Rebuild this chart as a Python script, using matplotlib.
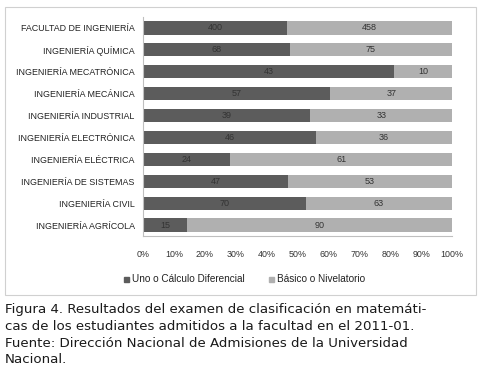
import matplotlib
matplotlib.use("Agg")
import matplotlib.pyplot as plt
from matplotlib.patches import Rectangle
import numpy as np

categories = ["FACULTAD DE INGENIERÍA", "INGENIERÍA QUÍMICA", "INGENIERÍA MECATRÓNICA",
              "INGENIERÍA MECÁNICA", "INGENIERÍA INDUSTRIAL", "INGENIERÍA ELECTRÓNICA",
              "INGENIERÍA ELÉCTRICA", "INGENIERÍA DE SISTEMAS", "INGENIERÍA CIVIL",
              "INGENIERÍA AGRÍCOLA"]
calculo = [400, 68, 43, 57, 39, 46, 24, 47, 70, 15]
basico = [458, 75, 10, 37, 33, 36, 61, 53, 63, 90]
series_names = ["Uno o Cálculo Diferencial", "Básico o Nivelatorio"]
xticks = [0, 10, 20, 30, 40, 50, 60, 70, 80, 90, 100]

W, H = 479, 374
fig = plt.figure(figsize=(W / 100, H / 100), dpi=100)
fig.patch.set_facecolor("white")

# chart border
fig.add_artist(Rectangle((5 / W, 1 - 295 / H), 471 / W, 288 / H, transform=fig.transFigure,
                         fill=False, edgecolor="#d0d0d0", lw=0.8))

left, right = 143 / W, 452 / W
top, bottom = 1 - 17 / H, 1 - 236 / H
ax = fig.add_axes([left, bottom, right - left, top - bottom])

c = np.array(calculo, float)
b = np.array(basico, float)
tot = c + b
pc = c / tot * 100
pb = b / tot * 100
y = np.arange(len(categories))

dark = "#5c5c5c"
light = "#b0b0b0"
ax.barh(y, pc, height=0.6, color=dark, edgecolor="none")
ax.barh(y, pb, left=pc, height=0.6, color=light, edgecolor="none")
for i in range(len(categories)):
    ax.text(pc[i] / 2, y[i], str(calculo[i]), ha="center", va="center", fontsize=6.5,
            color="#333333", family="Liberation Sans")
    ax.text(pc[i] + pb[i] / 2, y[i], str(basico[i]), ha="center", va="center", fontsize=6.5,
            color="#333333", family="Liberation Sans")

ax.set_xlim(0, 100)
ax.set_ylim(len(categories) - 0.5, -0.5)
ax.set_yticks(y)
ax.set_yticklabels(categories, fontsize=6.4, family="Liberation Sans", color="#222222")
ax.set_xticks(xticks)
ax.set_xticklabels([f"{t}%" for t in xticks], fontsize=6.4, family="Liberation Sans",
                   color="#333333")
ax.tick_params(axis="y", length=0, pad=6)
ax.tick_params(axis="x", length=0, pad=10)
for s in ["top", "right"]:
    ax.spines[s].set_visible(False)
ax.spines["left"].set_color("#bfbfbf")
ax.spines["bottom"].set_color("#bfbfbf")
ax.spines["left"].set_linewidth(0.8)
ax.spines["bottom"].set_linewidth(0.8)

# legend
ly = 1 - 279 / H
fig.add_artist(Rectangle((124 / W, ly - 2.5 / H), 5 / W, 5 / H, transform=fig.transFigure,
                         color=dark))
fig.text(132 / W, ly, series_names[0], fontsize=7.2, family="Liberation Sans",
         va="center", ha="left", color="#222222")
fig.add_artist(Rectangle((269 / W, ly - 2.5 / H), 5 / W, 5 / H, transform=fig.transFigure,
                         color=light))
fig.text(277 / W, ly, series_names[1], fontsize=7.2, family="Liberation Sans",
         va="center", ha="left", color="#222222")

caption = ["Figura 4. Resultados del examen de clasificación en matemáti-",
           "cas de los estudiantes admitidos a la facultad en el 2011-01.",
           "Fuente: Dirección Nacional de Admisiones de la Universidad",
           "Nacional."]
for k, line in enumerate(caption):
    fig.text(5 / W, 1 - (310 + 16.6 * k) / H, line, fontsize=9.6, family="DejaVu Sans",
             va="center", ha="left", color="#1a1a1a")

fig.savefig("out.png", dpi=100)
